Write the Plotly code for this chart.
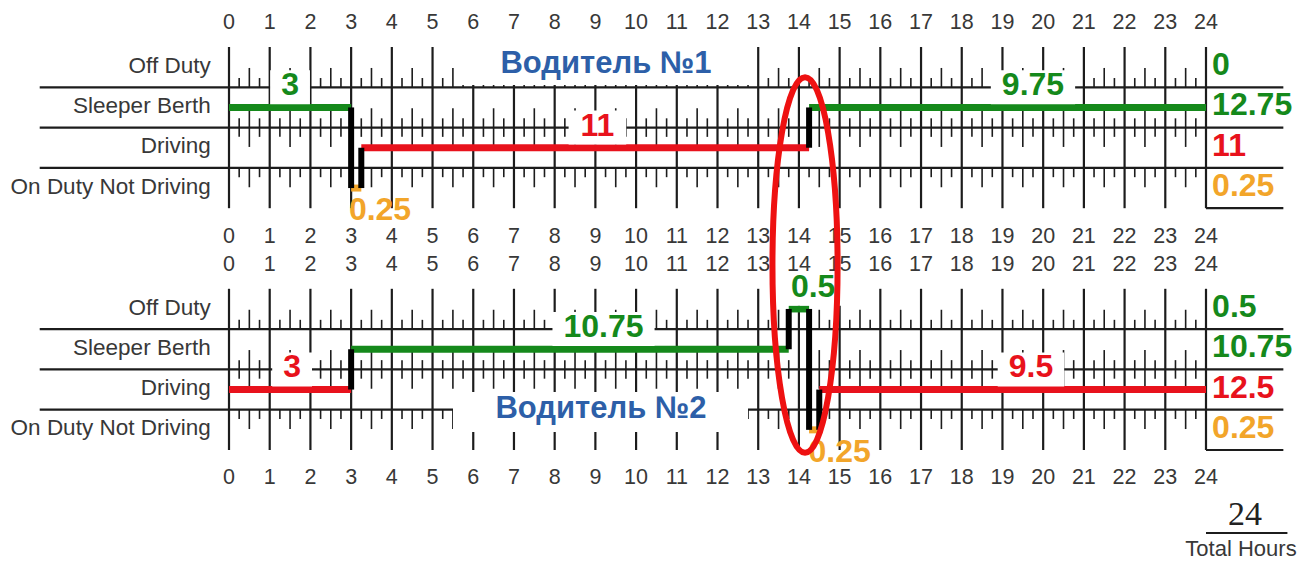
import plotly.graph_objects as go

# ---- data -------------------------------------------------------------
HOURS = list(range(25))
ROW_NAMES = ["Off Duty", "Sleeper Berth", "Driving", "On Duty Not Driving"]
STATUS_KEYS = ["OFF", "SB", "D", "ON"]

DRIVER_TITLES = ["Водитель №1", "Водитель №2"]
DRIVER1_START = [0, 3, 3.25, 14.25]
DRIVER1_STATUS = ["SB", "ON", "D", "SB"]
DRIVER2_START = [0, 3, 13.75, 14.25, 14.5]
DRIVER2_STATUS = ["D", "SB", "OFF", "ON", "D"]
DAY_END = 24

# ---- layout / style ---------------------------------------------------
W, H = 1301, 561
PX_H = 977 / 24          # pixels per hour
X0 = 229                 # pixel of hour 0
ROW_PX = 40.3            # pixels per status row
Y0 = 67.15               # pixel of first row centre
GRID_OFF = [0, 6]        # row offset of each log grid

COLORS = {"OFF": "#15891b", "SB": "#15891b", "D": "#e8121c", "ON": "#f2a52a"}
INK = "#1c1c1c"
TEXT = "#383838"
BLUE = "#2d5fa8"
FONT = "Liberation Sans, Arial, sans-serif"

LEFT_END = -4.65
RIGHT_END = 25.9
SHORT, LONG = 0.23, 0.48

# label anchor hours for each segment (layout only)
LABEL_X = [[1.5, 3.71, 9.05, 19.75], [1.55, 9.2, 14.35, 15.0, 19.7]]
# title boxes in pixels: x0, x1, y0, y1, text x, text y
TITLE_BOX = [(457, 753, 47, 85, 606, 65), (453, 748, 392, 432, 601, 410)]


def hx(px):
    return (px - X0) / PX_H


def ry(py):
    return (py - Y0) / ROW_PX


def seg_width(s):
    return sum(8.9 if c == "." else 17.8 for c in s) + 22


fig = go.Figure()

drivers = [(DRIVER1_START, DRIVER1_STATUS), (DRIVER2_START, DRIVER2_STATUS)]

# grid lines and ticks
for off in GRID_OFF:
    xs, ys = [], []
    top, bot = off - 0.5, off + 3.5
    for h in HOURS:
        xs += [h, h, None]
        ys += [top, bot, None]
    for k in (0.5, 1.5, 2.5):
        xs += [LEFT_END, RIGHT_END, None]
        ys += [off + k, off + k, None]
    xs += [24, RIGHT_END, None]
    ys += [bot, bot, None]
    fig.add_trace(go.Scatter(x=xs, y=ys, mode="lines",
                             line=dict(color=INK, width=2.2)))
    tx, ty = [], []
    for h in HOURS[:-1]:
        for q, ln in ((0.25, SHORT), (0.5, LONG), (0.75, SHORT)):
            for base, d in ((off + 0.5, -1), (off + 1.5, -1),
                            (off + 1.5, 1), (off + 2.5, 1)):
                tx += [h + q, h + q, None]
                ty += [base, base + d * ln, None]
    fig.add_trace(go.Scatter(x=tx, y=ty, mode="lines",
                             line=dict(color=INK, width=1.6)))

# hour labels, row labels, totals
for off, (starts, stats) in zip(GRID_OFF, drivers):
    for yy in (off - 1.08, off + 4.22):
        fig.add_trace(go.Scatter(
            x=HOURS, y=[yy] * len(HOURS), mode="text",
            text=[str(h) for h in HOURS],
            textfont=dict(family=FONT, size=21.5, color=TEXT)))
    fig.add_trace(go.Scatter(
        x=[-0.45] * 4, y=[off + i for i in range(4)], mode="text",
        text=ROW_NAMES, textposition="middle left",
        textfont=dict(family=FONT, size=22.5, color=TEXT)))
    ends = starts[1:] + [DAY_END]
    totals = {k: 0 for k in STATUS_KEYS}
    for s, e, st in zip(starts, ends, stats):
        totals[st] += e - s
    fig.add_trace(go.Scatter(
        x=[24.15] * 4, y=[off + i for i in range(4)], mode="text",
        text=[f"{totals[k]:g}" for k in STATUS_KEYS],
        textposition="middle right",
        textfont=dict(family=FONT, size=32, weight="bold",
                      color=[COLORS[k] for k in STATUS_KEYS])))

# driver title boxes
for title, (bx0, bx1, by0, by1, tx_, ty_) in zip(DRIVER_TITLES, TITLE_BOX):
    fig.add_trace(go.Scatter(
        x=[hx(bx0), hx(bx1), hx(bx1), hx(bx0), hx(bx0)],
        y=[ry(by0), ry(by0), ry(by1), ry(by1), ry(by0)],
        mode="lines", fill="toself", fillcolor="white", line=dict(width=0)))
    fig.add_trace(go.Scatter(
        x=[hx(tx_)], y=[ry(ty_)], mode="text", text=[title],
        textfont=dict(family=FONT, size=31, weight="bold", color=BLUE)))

# duty status lines
for off, (starts, stats), lab_x in zip(GRID_OFF, drivers, LABEL_X):
    ends = starts[1:] + [DAY_END]
    for color in ("#15891b", "#e8121c", "#f2a52a"):
        xs, ys = [], []
        for s, e, st in zip(starts, ends, stats):
            if COLORS[st] == color:
                r = off + STATUS_KEYS.index(st)
                xs += [s, e, None]
                ys += [r, r, None]
        fig.add_trace(go.Scatter(x=xs, y=ys, mode="lines",
                                 line=dict(color=color, width=7)))
    vx, vy = [], []
    for i in range(1, len(starts)):
        r0 = off + STATUS_KEYS.index(stats[i - 1])
        r1 = off + STATUS_KEYS.index(stats[i])
        vx += [starts[i], starts[i], None]
        vy += [r0, r1, None]
    fig.add_trace(go.Scatter(x=vx, y=vy, mode="lines",
                             line=dict(color="#000000", width=6)))

    # segment labels
    bxs, bys, lx, ly, lt, lc = [], [], [], [], [], []
    for s, e, st, x in zip(starts, ends, stats, lab_x):
        r = off + STATUS_KEYS.index(st)
        txt = f"{e - s:g}"
        y = r + 0.6 if st == "ON" else r - 0.5
        if st != "ON":
            hw = seg_width(txt) / 2 / PX_H
            hh = 17 / ROW_PX
            bxs += [x - hw, x + hw, x + hw, x - hw, x - hw, None]
            bys += [y - hh, y - hh, y + hh, y + hh, y - hh, None]
        lx.append(x)
        ly.append(y)
        lt.append(txt)
        lc.append(COLORS[st])
    fig.add_trace(go.Scatter(x=bxs, y=bys, mode="lines", fill="toself",
                             fillcolor="white", line=dict(width=0)))
    fig.add_trace(go.Scatter(
        x=lx, y=ly, mode="text", text=lt,
        textfont=dict(family=FONT, size=32, weight="bold", color=lc)))

# total hours block
day_total = sum((DRIVER1_START[1:] + [DAY_END])[i] - DRIVER1_START[i]
                for i in range(len(DRIVER1_START)))
fig.add_trace(go.Scatter(x=[24, 26.0], y=[ry(533)] * 2, mode="lines",
                         line=dict(color=INK, width=2)))
fig.add_trace(go.Scatter(
    x=[hx(1245)], y=[ry(516)], mode="text", text=[f"{day_total:g}"],
    textfont=dict(family="Liberation Serif, Times New Roman, serif",
                  size=34, color="#222222")))
fig.add_trace(go.Scatter(
    x=[hx(1241)], y=[ry(550)], mode="text", text=["Total Hours"],
    textfont=dict(family=FONT, size=22, color=TEXT)))

# highlight ellipse
fig.add_shape(type="circle", xref="x", yref="y", layer="above",
              x0=13.35, x1=14.95, y0=0.25, y1=9.57,
              line=dict(color="#ee1111", width=6))

fig.update_traces(hoverinfo="skip", showlegend=False)
fig.update_layout(
    width=W, height=H, autosize=False,
    margin=dict(l=0, r=0, t=0, b=0),
    paper_bgcolor="white", plot_bgcolor="white",
    xaxis=dict(range=[-X0 / PX_H, (W - X0) / PX_H], visible=False,
               fixedrange=True),
    yaxis=dict(range=[(H - Y0) / ROW_PX, -Y0 / ROW_PX], visible=False,
               fixedrange=True),
    showlegend=False,
)

fig.write_html("out.html", config={"displayModeBar": False},
               post_script="document.body.style.margin='0';"
                           "document.body.style.overflow='hidden';")
